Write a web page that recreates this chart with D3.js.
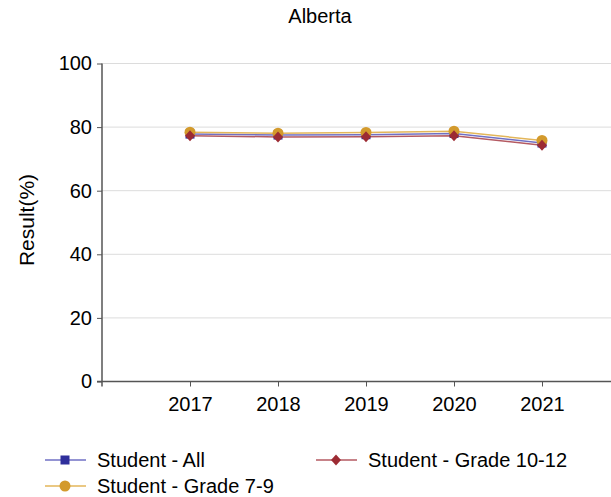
<!DOCTYPE html>
<html>
<head>
<meta charset="utf-8">
<script src="https://cdn.jsdelivr.net/npm/d3@7"></script>
<style>
  html, body { margin: 0; padding: 0; background: #fff; }
  svg { display: block; font-family: "Liberation Sans", Arial, sans-serif; }
</style>
</head>
<body>
<svg id="chart" width="611" height="497"></svg>
<script>
// Survey years and results (%)
const years = [2017, 2018, 2019, 2020, 2021];
const studentAll = [77.8, 77.5, 77.6, 78.0, 75.0];
const grade10to12 = [77.3, 76.9, 77.0, 77.3, 74.3];
const grade7to9 = [78.4, 78.1, 78.3, 78.7, 75.8];
const yTicks = [0, 20, 40, 60, 80, 100];

const series = [
  { name: "Student - All", values: studentAll, line: "#7070c4", fill: "#2f2f9c", shape: "square" },
  { name: "Student - Grade 10-12", values: grade10to12, line: "#b45a62", fill: "#9c2b33", shape: "diamond" },
  { name: "Student - Grade 7-9", values: grade7to9, line: "#e3b65a", fill: "#d39a2c", shape: "circle" }
];

const svg = d3.select("#chart");
const plotLeft = 102, plotRight = 630, plotTop = 63.5, plotBottom = 381.5;
const fontSize = 20;

const x = d3.scaleLinear().domain([2016, 2022]).range([plotLeft, plotRight]);
const y = d3.scaleLinear().domain([0, 100]).range([plotBottom, plotTop]);

// title
svg.append("text").attr("x", 320).attr("y", 23).attr("text-anchor", "middle")
  .attr("font-size", fontSize).attr("fill", "#000").text("Alberta");

// horizontal grid
svg.append("g").selectAll("line").data(yTicks.filter(d => d > 0)).join("line")
  .attr("x1", plotLeft).attr("x2", 611)
  .attr("y1", d => y(d)).attr("y2", d => y(d))
  .attr("stroke", "#dcdcdc").attr("stroke-width", 1);

// y axis
const yAxis = svg.append("g").attr("transform", `translate(${plotLeft},0)`)
  .call(d3.axisLeft(y).tickValues(yTicks).tickSize(5).tickPadding(5));
yAxis.select(".domain").attr("d", `M0,${plotTop}V${plotBottom + 5}`).attr("stroke", "#555").attr("stroke-width", 1.5);
yAxis.selectAll(".tick line").attr("stroke", "#555");
yAxis.selectAll(".tick text").attr("font-size", fontSize).attr("fill", "#000")
  .attr("font-family", "Liberation Sans, Arial, sans-serif");

// x axis
const xAxis = svg.append("g").attr("transform", `translate(0,${plotBottom})`)
  .call(d3.axisBottom(x).tickValues(years).tickFormat(d3.format("d")).tickSize(5).tickPadding(10));
xAxis.select(".domain").attr("d", `M${plotLeft - 5},0H611`).attr("stroke", "#555").attr("stroke-width", 1.5);
xAxis.selectAll(".tick line").attr("stroke", "#555");
xAxis.selectAll(".tick text").attr("font-size", fontSize).attr("fill", "#000")
  .attr("font-family", "Liberation Sans, Arial, sans-serif");

// y label
svg.append("text").attr("transform", `translate(34,220) rotate(-90)`)
  .attr("text-anchor", "middle").attr("font-size", 21).attr("fill", "#000").text("Result(%)");

function drawMarker(g, shape, fill, cx, cy) {
  if (shape === "square") {
    g.append("rect").attr("x", cx - 4.5).attr("y", cy - 4.5).attr("width", 9).attr("height", 9).attr("fill", fill);
  } else if (shape === "diamond") {
    g.append("path").attr("d", `M${cx},${cy - 5.5}L${cx + 5},${cy}L${cx},${cy + 5.5}L${cx - 5},${cy}Z`).attr("fill", fill);
  } else {
    g.append("circle").attr("cx", cx).attr("cy", cy).attr("r", 5.5).attr("fill", fill);
  }
}

const line = d3.line().x(d => x(d[0])).y(d => y(d[1]));
const plot = svg.append("g");
series.forEach(s => {
  const pts = years.map((yr, i) => [yr, s.values[i]]);
  plot.append("path").attr("d", line(pts)).attr("fill", "none")
    .attr("stroke", s.line).attr("stroke-width", 1.5);
});
// markers drawn: square, circle, then diamond on top
[series[0], series[2], series[1]].forEach(s => {
  const g = plot.append("g");
  years.forEach((yr, i) => drawMarker(g, s.shape, s.fill, x(yr), y(s.values[i])));
});

// legend
const legendPos = [
  { s: series[0], lx: 45, ly: 460 },
  { s: series[1], lx: 316, ly: 460 },
  { s: series[2], lx: 45, ly: 486 }
];
legendPos.forEach(({ s, lx, ly }) => {
  const g = svg.append("g");
  g.append("line").attr("x1", lx).attr("x2", lx + 41).attr("y1", ly).attr("y2", ly)
    .attr("stroke", s.line).attr("stroke-width", 1.5);
  drawMarker(g, s.shape, s.fill, lx + 20, ly);
  g.append("text").attr("x", lx + 52).attr("y", ly + 6.5).attr("font-size", fontSize).attr("fill", "#000").text(s.name);
});
</script>
</body>
</html>
